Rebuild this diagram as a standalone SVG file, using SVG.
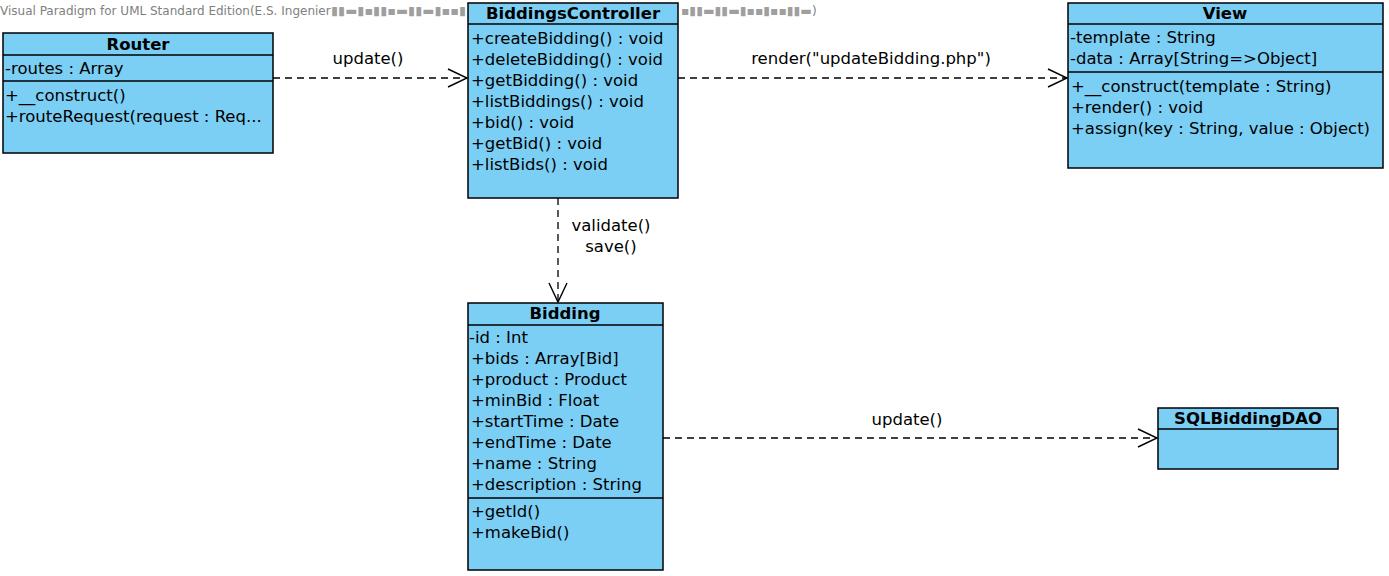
<svg xmlns="http://www.w3.org/2000/svg" width="1389" height="576" viewBox="0 0 1389 576">
<style>
.box{fill:#7BCFF5;stroke:#000;stroke-width:1.5}
.sep{stroke:#000;stroke-width:1.5}
.t{font-family:"DejaVu Sans",sans-serif;font-size:16.5px;fill:#000}
.h{font-family:"DejaVu Sans",sans-serif;font-size:16.5px;font-weight:bold;fill:#000;text-anchor:middle}
.lbl{font-family:"DejaVu Sans",sans-serif;font-size:16.5px;fill:#000;text-anchor:middle}
.dep{fill:none;stroke:#000;stroke-width:1.3;stroke-dasharray:7,5;marker-end:url(#open)}
.wm{font-family:"DejaVu Sans",sans-serif;font-size:12px;fill:#808080}
</style>
<defs>
<marker id="open" markerUnits="userSpaceOnUse" viewBox="0 0 22 20" markerWidth="22" markerHeight="20" refX="20" refY="10" orient="auto">
<path d="M1,1 L20,10 L1,19" fill="none" stroke="#000" stroke-width="1.4" stroke-dasharray="none"/>
</marker>
</defs>
<rect width="1389" height="576" fill="#fff"/>
<g id="watermark">
<text class="wm" x="0" y="15">Visual Paradigm for UML Standard Edition(E.S. Ingenier</text>
<text class="wm" x="331" y="15" textLength="135" lengthAdjust="spacingAndGlyphs" fill-opacity="0.75">▮▮▬▮▪▮▮▪▬▮▮▬▮▪▪▮</text>
<text class="wm" x="681" y="15" textLength="131" lengthAdjust="spacingAndGlyphs" fill-opacity="0.75">▪▮▮▬▮▮▬▮▪▪▮▪▪▮▮▬</text>
<text class="wm" x="812" y="15">)</text>
</g>
<g id="connectors">
<path class="dep" d="M273,78 L467,78"/>
<text class="lbl" x="368" y="64">update()</text>
<path class="dep" d="M678,78 L1067,78"/>
<text class="lbl" x="871" y="64">render("updateBidding.php")</text>
<path class="dep" d="M558,198 L558,302"/>
<text class="lbl" x="611" y="231">validate()</text>
<text class="lbl" x="611" y="252">save()</text>
<path class="dep" d="M663,438 L1157,438"/>
<text class="lbl" x="907" y="425">update()</text>
</g>
<g id="Router">
<rect class="box" x="3" y="33" width="270" height="120"/>
<line class="sep" x1="3" y1="55" x2="273" y2="55"/>
<line class="sep" x1="3" y1="81" x2="273" y2="81"/>
<text class="h" x="138" y="50">Router</text>
<text class="t" x="5" y="74">-routes : Array</text>
<text class="t" x="5" y="101">+__construct()</text>
<text class="t" x="5" y="122">+routeRequest(request : Req...</text>
</g>
<g id="BiddingsController">
<rect class="box" x="468" y="3" width="210" height="195"/>
<line class="sep" x1="468" y1="24" x2="678" y2="24"/>
<text class="h" x="573" y="19">BiddingsController</text>
<text class="t" x="471" y="44">+createBidding() : void</text>
<text class="t" x="471" y="65">+deleteBidding() : void</text>
<text class="t" x="471" y="86">+getBidding() : void</text>
<text class="t" x="471" y="107">+listBiddings() : void</text>
<text class="t" x="471" y="128">+bid() : void</text>
<text class="t" x="471" y="149">+getBid() : void</text>
<text class="t" x="471" y="170">+listBids() : void</text>
</g>
<g id="View">
<rect class="box" x="1068" y="3" width="315" height="165"/>
<line class="sep" x1="1068" y1="24" x2="1383" y2="24"/>
<line class="sep" x1="1068" y1="72" x2="1383" y2="72"/>
<text class="h" x="1225" y="19">View</text>
<text class="t" x="1070" y="43">-template : String</text>
<text class="t" x="1070" y="64">-data : Array[String=&gt;Object]</text>
<text class="t" x="1071" y="92">+__construct(template : String)</text>
<text class="t" x="1071" y="113">+render() : void</text>
<text class="t" x="1071" y="134">+assign(key : String, value : Object)</text>
</g>
<g id="Bidding">
<rect class="box" x="468" y="303" width="195" height="267"/>
<line class="sep" x1="468" y1="325" x2="663" y2="325"/>
<line class="sep" x1="468" y1="498" x2="663" y2="498"/>
<text class="h" x="565" y="319">Bidding</text>
<text class="t" x="469" y="343">-id : Int</text>
<text class="t" x="471" y="364">+bids : Array[Bid]</text>
<text class="t" x="471" y="385">+product : Product</text>
<text class="t" x="471" y="406">+minBid : Float</text>
<text class="t" x="471" y="427">+startTime : Date</text>
<text class="t" x="471" y="448">+endTime : Date</text>
<text class="t" x="471" y="469">+name : String</text>
<text class="t" x="471" y="490">+description : String</text>
<text class="t" x="471" y="517">+getId()</text>
<text class="t" x="471" y="538">+makeBid()</text>
</g>
<g id="SQLBiddingDAO">
<rect class="box" x="1158" y="408" width="180" height="61"/>
<line class="sep" x1="1158" y1="429" x2="1338" y2="429"/>
<text class="h" x="1248" y="424">SQLBiddingDAO</text>
</g>
</svg>
